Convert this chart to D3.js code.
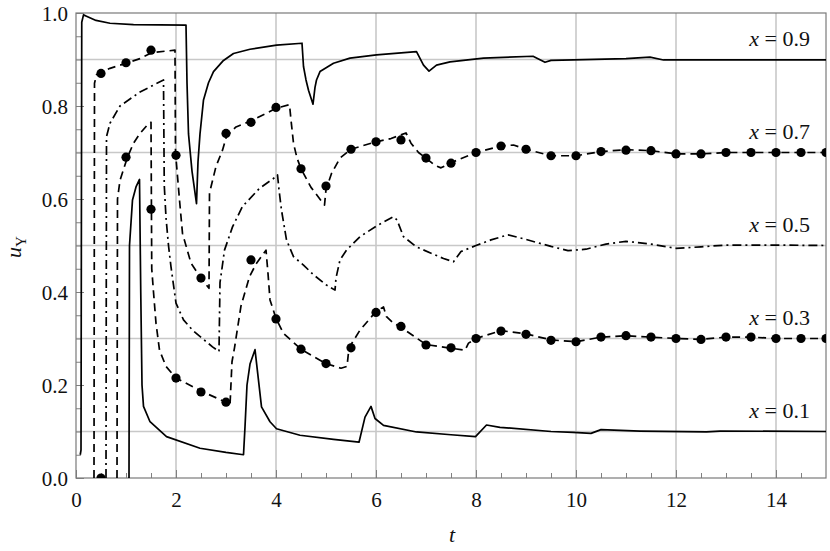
<!DOCTYPE html>
<html>
<head>
<meta charset="utf-8">
<script src="https://cdn.jsdelivr.net/npm/d3@7"></script>
<style>
  body { margin: 0; background: #fff; }
</style>
</head>
<body>
<svg id="chart" width="830" height="551"></svg>
<script>
// tick / grid values
var xMajor = [0, 2, 4, 6, 8, 10, 12, 14];
var xMinor = [0.5, 1, 1.5, 2.5, 3, 3.5, 4.5, 5, 5.5, 6.5, 7, 7.5, 8.5, 9, 9.5, 10.5, 11, 11.5, 12.5, 13, 13.5, 14.5];
var yMajor = [0.0, 0.2, 0.4, 0.6, 0.8, 1.0];
var yMinor = [0.05, 0.1, 0.15, 0.25, 0.3, 0.35, 0.45, 0.5, 0.55, 0.65, 0.7, 0.75, 0.85, 0.9, 0.95];
var gridX = [2, 4, 6, 8, 10, 12, 14];
var gridY = [0.1, 0.3, 0.5, 0.7, 0.9];

// curve labels and their steady levels
var seriesNames = ["0.9", "0.7", "0.5", "0.3", "0.1"];
var seriesLevels = [0.9, 0.7, 0.5, 0.3, 0.1];

// curves, [t, u]
var curve09 = [
  [0.085, 0.05], [0.10, 0.06], [0.115, 0.98], [0.15, 0.996], [0.21, 0.993], [0.4, 0.984], [0.68, 0.978], [1.15, 0.975], [2.2, 0.974],
  [2.22, 0.85], [2.25, 0.74], [2.32, 0.66], [2.41, 0.59], [2.44, 0.68], [2.48, 0.74], [2.55, 0.813], [2.65, 0.85], [2.75, 0.874],
  [2.95, 0.898], [3.15, 0.913], [3.48, 0.922], [4.01, 0.931], [4.52, 0.935],
  [4.55, 0.885], [4.6, 0.856], [4.65, 0.834], [4.74, 0.804], [4.78, 0.84], [4.81, 0.856], [4.88, 0.874], [5.15, 0.892], [5.48, 0.903], [6.01, 0.91], [6.81, 0.917],
  [6.95, 0.888], [7.06, 0.875], [7.21, 0.888], [7.48, 0.895], [8.15, 0.903], [9.14, 0.907],
  [9.38, 0.894], [9.5, 0.898], [9.95, 0.899], [11.0, 0.902], [11.48, 0.905], [11.75, 0.899], [15, 0.899]
];
var curve07 = [
  [0.36, 0], [0.37, 0.849], [0.41, 0.867], [0.5, 0.872], [0.68, 0.881], [1.03, 0.893], [1.28, 0.902], [1.52, 0.915], [1.98, 0.92],
  [1.99, 0.70], [2.07, 0.598], [2.13, 0.526], [2.3, 0.462], [2.5, 0.43], [2.66, 0.408],
  [2.67, 0.613], [2.8, 0.67], [2.93, 0.705], [3.01, 0.735], [3.2, 0.755], [3.5, 0.768], [4.0, 0.795], [4.27, 0.803],
  [4.3, 0.77], [4.35, 0.72], [4.42, 0.688], [4.5, 0.665], [4.7, 0.625], [4.97, 0.587],
  [5.0, 0.62], [5.11, 0.655], [5.28, 0.688], [5.5, 0.707], [6.0, 0.723], [6.3, 0.73], [6.6, 0.742],
  [6.7, 0.72], [6.85, 0.70], [7.0, 0.688], [7.18, 0.672], [7.3, 0.667],
  [7.5, 0.678], [8.0, 0.70], [8.5, 0.714], [8.75, 0.716], [9.0, 0.707], [9.5, 0.693], [10.0, 0.693], [10.5, 0.702], [11.0, 0.706],
  [11.5, 0.704], [12.0, 0.697], [12.5, 0.697], [13.0, 0.70], [15, 0.70]
];
var curve05 = [
  [0.6, 0], [0.61, 0.734], [0.68, 0.763], [0.88, 0.8], [1.28, 0.83], [1.75, 0.856],
  [1.765, 0.63], [1.8, 0.56], [1.85, 0.5], [1.9, 0.454], [2.0, 0.376], [2.15, 0.34], [2.33, 0.318], [2.55, 0.298], [2.73, 0.282], [2.86, 0.272],
  [2.88, 0.42], [2.97, 0.49], [3.13, 0.54], [3.33, 0.584], [3.67, 0.623], [4.0, 0.648], [4.03, 0.652],
  [4.06, 0.62], [4.11, 0.576], [4.21, 0.512], [4.35, 0.476], [4.55, 0.458], [4.75, 0.437], [5.01, 0.415], [5.18, 0.404],
  [5.2, 0.43], [5.28, 0.469], [5.41, 0.49], [5.68, 0.519], [6.01, 0.542], [6.35, 0.562],
  [6.42, 0.555], [6.55, 0.519], [6.81, 0.497], [7.35, 0.472], [7.55, 0.465],
  [7.7, 0.487], [8.0, 0.5], [8.3, 0.512], [8.64, 0.523], [9.0, 0.513], [9.5, 0.498], [9.84, 0.489], [10.2, 0.492], [10.6, 0.503],
  [11.0, 0.509], [11.5, 0.503], [12.0, 0.494], [12.5, 0.497], [13.0, 0.501], [14.0, 0.501], [15, 0.5]
];
var curve03 = [
  [0.82, 0], [0.83, 0.6], [0.88, 0.64], [1.03, 0.69], [1.15, 0.72], [1.28, 0.741], [1.45, 0.762], [1.5, 0.765],
  [1.515, 0.45], [1.55, 0.4], [1.6, 0.333], [1.67, 0.275], [1.8, 0.24], [2.0, 0.215], [2.5, 0.187], [3.0, 0.163], [3.08, 0.156],
  [3.12, 0.25], [3.17, 0.28], [3.3, 0.37], [3.47, 0.433], [3.6, 0.46], [3.8, 0.49],
  [3.84, 0.44], [3.88, 0.383], [4.0, 0.343], [4.15, 0.311], [4.5, 0.277], [5.0, 0.246], [5.3, 0.236],
  [5.42, 0.24], [5.46, 0.28], [5.68, 0.318], [6.0, 0.358], [6.15, 0.368],
  [6.21, 0.347], [6.35, 0.333], [6.5, 0.324], [7.0, 0.287], [7.5, 0.279], [7.78, 0.275],
  [7.85, 0.29], [8.0, 0.3], [8.5, 0.317], [9.0, 0.31], [9.5, 0.297], [10.0, 0.293], [10.5, 0.303], [11.0, 0.306], [11.5, 0.303],
  [12.0, 0.3], [12.5, 0.298], [13.0, 0.303], [13.5, 0.303], [14.0, 0.3], [15, 0.3]
];
var curve01 = [
  [1.06, 0], [1.07, 0.5], [1.13, 0.598], [1.2, 0.626], [1.27, 0.642],
  [1.295, 0.4], [1.32, 0.2], [1.35, 0.154], [1.48, 0.121], [1.81, 0.089], [2.48, 0.064], [3.0, 0.055], [3.35, 0.05],
  [3.38, 0.11], [3.42, 0.2], [3.48, 0.245], [3.58, 0.276], [3.65, 0.21], [3.71, 0.153], [3.88, 0.121], [4.01, 0.106], [4.48, 0.092], [5.15, 0.083], [5.66, 0.077],
  [5.78, 0.131], [5.9, 0.154], [5.98, 0.128], [6.15, 0.113], [6.81, 0.099], [7.5, 0.093], [7.99, 0.089],
  [8.21, 0.114], [8.48, 0.109], [9.5, 0.1], [9.94, 0.098], [10.3, 0.096], [10.5, 0.104], [11.28, 0.101], [12.61, 0.099], [12.88, 0.101], [15, 0.1]
];

// numerical points, every 0.5 in t
var dots07 = [
  [0.5, 0.87], [1.0, 0.893], [1.5, 0.92], [2.0, 0.694], [2.5, 0.43], [3.0, 0.741], [3.5, 0.765], [4.0, 0.797], [4.5, 0.665], [5.0, 0.628],
  [5.5, 0.707], [6.0, 0.723], [6.5, 0.727], [7.0, 0.688], [7.5, 0.677], [8.0, 0.70], [8.5, 0.714], [9.0, 0.707], [9.5, 0.693], [10.0, 0.693],
  [10.5, 0.702], [11.0, 0.705], [11.5, 0.704], [12.0, 0.697], [12.5, 0.697], [13.0, 0.70], [13.5, 0.70], [14.0, 0.70], [14.5, 0.70], [15.0, 0.70]
];
var dots03 = [
  [0.5, 0.0], [1.0, 0.69], [1.5, 0.578], [2.0, 0.215], [2.5, 0.185], [3.0, 0.163], [3.5, 0.469], [4.0, 0.342], [4.5, 0.277], [5.0, 0.246],
  [5.5, 0.28], [6.0, 0.356], [6.5, 0.326], [7.0, 0.286], [7.5, 0.28], [8.0, 0.30], [8.5, 0.316], [9.0, 0.309], [9.5, 0.296], [10.0, 0.293],
  [10.5, 0.303], [11.0, 0.306], [11.5, 0.303], [12.0, 0.30], [12.5, 0.298], [13.0, 0.303], [13.5, 0.303], [14.0, 0.30], [14.5, 0.30], [15.0, 0.30]
];

var FONT = "Liberation Serif";
var margin = {left: 76, top: 13, right: 4, bottom: 73};
var W = 830, H = 551;
var pw = W - margin.left - margin.right, ph = H - margin.top - margin.bottom;

var svg = d3.select("#chart");
var g = svg.append("g").attr("transform", "translate(" + margin.left + "," + margin.top + ")");

var x = d3.scaleLinear().domain([0, 15]).range([0, pw]);
var y = d3.scaleLinear().domain([0, 1]).range([ph, 0]);

svg.append("defs").append("clipPath").attr("id", "plotclip")
   .append("rect").attr("width", pw).attr("height", ph);

// grid
g.selectAll(".gx").data(gridX).enter().append("line")
  .attr("x1", function(d){ return x(d); }).attr("x2", function(d){ return x(d); })
  .attr("y1", 0).attr("y2", ph)
  .attr("stroke", "#c8c8c8").attr("stroke-width", 1.6);
g.selectAll(".gy").data(gridY).enter().append("line")
  .attr("y1", function(d){ return y(d); }).attr("y2", function(d){ return y(d); })
  .attr("x1", 0).attr("x2", pw)
  .attr("stroke", "#c8c8c8").attr("stroke-width", 1.6);

// inward ticks (Mathematica frame style)
var tickCol = "#808080";
function styleAxis(a){
  a.attr("font-family", FONT).attr("font-size", 21);
  a.select(".domain").remove();
  a.selectAll("line").attr("stroke", tickCol);
  a.selectAll("text").attr("font-family", FONT).attr("font-size", 21).attr("fill", "#111");
}
g.append("g").attr("transform", "translate(0," + ph + ")")
  .call(d3.axisBottom(x).tickValues(xMinor).tickSize(-5).tickFormat(""))
  .call(styleAxis);
g.append("g").attr("transform", "translate(0," + ph + ")")
  .call(d3.axisBottom(x).tickValues(xMajor).tickSize(-8).tickPadding(14).tickFormat(d3.format("d")))
  .call(styleAxis);
g.append("g")
  .call(d3.axisLeft(y).tickValues(yMinor).tickSize(-5).tickFormat(""))
  .call(styleAxis);
g.append("g")
  .call(d3.axisLeft(y).tickValues(yMajor).tickSize(-8).tickPadding(8).tickFormat(d3.format(".1f")))
  .call(styleAxis)
  .call(function(a){ a.selectAll("text").attr("dy", "0.34em"); });

// frame
g.append("rect").attr("width", pw).attr("height", ph)
  .attr("fill", "none").attr("stroke", "#7a7a7a").attr("stroke-width", 1.2);

var line = d3.line()
  .x(function(d){ return x(d[0]); })
  .y(function(d){ return y(d[1]); });

var plot = g.append("g").attr("clip-path", "url(#plotclip)");

var curves = [
  {data: curve09, dash: null},
  {data: curve07, dash: "8,5"},
  {data: curve05, dash: "9,4,2,4"},
  {data: curve03, dash: "8,5"},
  {data: curve01, dash: null}
];
curves.forEach(function(c){
  plot.append("path").datum(c.data)
    .attr("d", line)
    .attr("fill", "none").attr("stroke", "#000").attr("stroke-width", 1.7)
    .attr("stroke-linejoin", "round")
    .attr("stroke-dasharray", c.dash);
});

[dots07, dots03].forEach(function(pts){
  plot.selectAll(null).data(pts).enter().append("circle")
    .attr("cx", function(d){ return x(d[0]); })
    .attr("cy", function(d){ return y(d[1]); })
    .attr("r", 4.6).attr("fill", "#000");
});

// curve labels at right
seriesNames.forEach(function(n, i){
  var t = g.append("text")
    .attr("x", 734).attr("y", y(seriesLevels[i] + 0.029))
    .attr("text-anchor", "end").attr("font-size", 22).attr("font-family", FONT).attr("fill", "#111");
  t.append("tspan").attr("font-style", "italic").text("x");
  t.append("tspan").text(" = " + n);
});

// axis titles
svg.append("text").attr("x", 452).attr("y", 542).attr("font-family", FONT).attr("fill", "#111")
  .attr("text-anchor", "middle").attr("font-size", 22).attr("font-style", "italic").text("t");

var yl = svg.append("text")
  .attr("transform", "translate(21,247) rotate(-90)").attr("font-family", FONT).attr("fill", "#111")
  .attr("text-anchor", "middle").attr("font-size", 22);
yl.append("tspan").attr("font-style", "italic").text("u");
yl.append("tspan").attr("font-size", 15).attr("dy", 5).text("Υ");
</script>
</body>
</html>
